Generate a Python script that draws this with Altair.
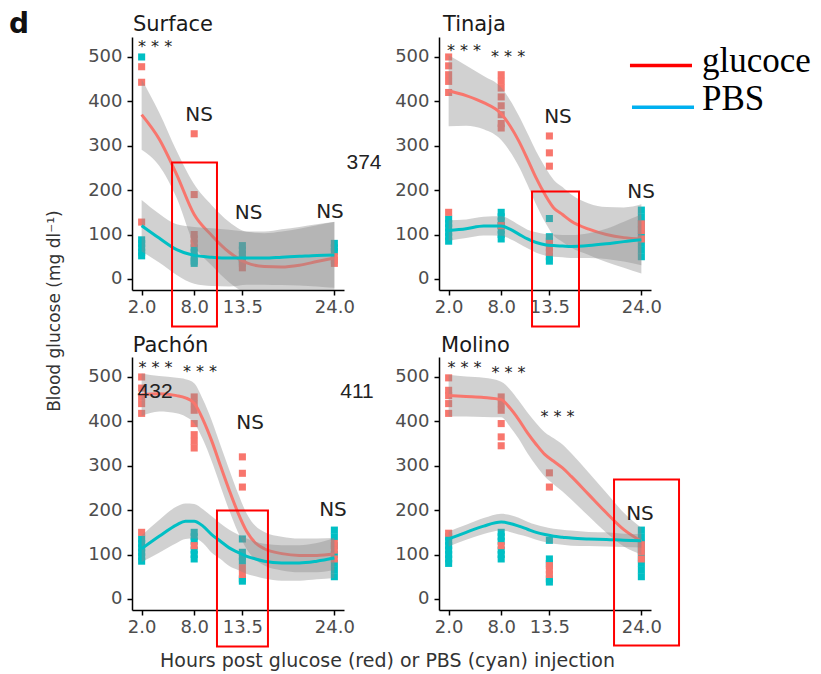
import altair as alt
import pandas as pd

RED = "#F8766D"
CYAN = "#00BFC4"
GRAY = "#8c8c8c"
BOX = "#ff0000"

HOURS_TICKS = [2, 8, 13.5, 24]
Y_TICKS = [0, 100, 200, 300, 400, 500]

# ---------------- Surface ----------------
S_GRID = [2, 4, 6, 8, 10, 12, 14, 16, 18, 20, 22, 24]
S_GLU_FIT = [370, 315, 235, 145, 98, 60, 36, 28, 27, 31, 39, 47]
S_GLU_HW = [79, 60, 53, 68, 68, 68, 70, 75, 80, 82, 82, 82]
S_PBS_FIT = [120, 92, 66, 53, 49, 47, 47, 47, 49, 51, 53, 54]
S_PBS_HW = [58, 55, 57, 64, 65, 64, 60, 60, 63, 66, 70, 74]
S_GLU_PTS = {2: [478, 443, 128], 8: [327, 190, 100, 90, 80], 13.5: [35, 25], 24: [50, 42, 35]}
S_PBS_PTS = {2: [500, 88, 80, 70, 60, 52], 8: [70, 60, 50, 40, 35],
             13.5: [75, 65, 55, 45, 40], 24: [80, 70, 62]}
S_STARS = [(3.53, 531.7)]
S_NS = [(8.55, 370), (14.2, 149), (23.5, 150)]
S_BOX = [5.47, 10.60, 262.0, -107.4]
S_TITLE = ("Surface", 1.01, 559.4)

# ---------------- Tinaja ----------------
T_GRID = [2, 4, 6, 8, 9, 10, 11, 12, 13, 14, 15, 16, 18, 20, 22, 24]
T_GLU_FIT = [424, 413, 397, 372, 345, 311, 270, 227, 190, 160, 145, 130, 112, 100, 93, 90]
T_GLU_HW = [80, 68, 60, 59, 58, 57, 58, 60, 62, 63, 62, 60, 58, 62, 68, 78]
T_PBS_FIT = [109, 113, 119, 119, 112, 101, 90, 82, 77, 75, 74, 73, 75, 79, 84, 88]
T_PBS_HW = [23, 21, 21, 22, 22, 21, 21, 23, 24, 25, 25, 26, 28, 34, 45, 57]
T_GLU_PTS = {2: [500, 480, 460, 445, 420, 150],
             8: [460, 445, 430, 410, 390, 370, 350, 340, 120],
             13.5: [322, 284, 254, 80, 70, 60], 24: [124, 109, 90]}
T_PBS_PTS = {2: [135, 125, 115, 105, 95, 85], 8: [150, 140, 130, 120, 110, 100, 90],
             13.5: [136, 95, 85, 50, 40], 24: [155, 140, 125, 110, 95, 80, 65, 50]}
T_STARS = [(3.75, 522.2), (8.78, 509.9)]
T_NS = [(14.48, 365), (23.96, 195.1)]
T_BOX = [11.52, 16.88, 196.7, -107.4]
T_TITLE = ("Tinaja", 1.36, 558.0)

# ---------------- Pachón ----------------
P_GRID = [2, 4, 6, 7, 8, 9, 10, 11, 12, 13, 14, 15, 16, 18, 20, 22, 24]
P_GLU_FIT = [460, 462, 458, 453, 441, 404, 356, 300, 245, 194, 152, 126, 113, 102, 98, 98, 101]
P_GLU_HW = [48, 40, 40, 42, 45, 45, 46, 46, 46, 44, 40, 38, 38, 38, 38, 38, 36]
P_PBS_FIT = [113, 141, 167, 175, 175, 164, 145, 130, 115, 105, 96, 90, 85, 81, 81, 85, 92]
P_PBS_HW = [30, 37, 41, 40, 39, 38, 41, 40, 41, 40, 40, 39, 39, 40, 40, 41, 45]
P_GLU_PTS = {2: [500, 475, 455, 440, 418, 150],
             8: [455, 440, 425, 395, 370, 355, 340, 120],
             13.5: [320, 283, 252, 70, 55], 24: [125, 110, 90]}
P_PBS_PTS = {2: [135, 125, 115, 105, 95, 85], 8: [150, 140, 130, 110, 100, 90],
             13.5: [135, 105, 95, 85, 45, 40], 24: [155, 140, 120, 100, 80, 65, 50]}
P_STARS = [(3.58, 530.1), (8.66, 519.3)]
P_NS = [(14.37, 397.2), (23.84, 201.2)]
P_BOX = [10.60, 16.42, 199.0, -107.4]
P_TITLE = ("Pachón", 0.98, 557.2)

# ---------------- Molino ----------------
M_GRID = [2, 4, 6, 8, 9, 10, 11, 12, 13, 14, 15, 16, 18, 20, 22, 24]
M_GLU_FIT = [458, 456, 454, 449, 430, 404, 374, 348, 325, 310, 295, 276, 235, 194, 156, 130]
M_GLU_HW = [47, 45, 44, 40, 42, 43, 46, 48, 50, 52, 53, 52, 49, 45, 38, 30]
M_PBS_FIT = [135, 150, 164, 173, 170, 164, 157, 150, 145, 141, 139, 137, 135, 134, 132, 131]
M_PBS_HW = [17, 17, 18, 19, 19, 19, 17, 17, 17, 17, 17, 17, 16, 16, 15, 15]
M_GLU_PTS = {2: [498, 470, 458, 440, 418, 148], 8: [455, 440, 425, 395, 365, 345, 120],
             13.5: [284, 252, 75, 65, 55], 24: [122, 107, 90]}
M_PBS_PTS = {2: [140, 130, 120, 110, 100, 90, 80], 8: [150, 140, 130, 110, 100, 90],
             13.5: [132, 90, 80, 45, 38], 24: [155, 140, 125, 110, 95, 80, 65, 50]}
M_STARS = [(3.81, 530.1), (8.83, 518.9), (14.43, 419.7)]
M_NS = [(23.84, 191.1)]
M_BOX = [20.88, 28.30, 268.8, -105.2]
M_TITLE = ("Molino", 1.13, 557.0)

# ---------------- annotations ----------------
Y_TITLE = "Blood glucose (mg dl\u207b\u00b9)"
X_TITLE = "Hours post glucose (red) or PBS (cyan) injection"
LEGEND_LABELS = ["glucoce", "PBS"]
LEGEND_COLORS = ["#ff0000", "#00b0f0"]

XS = alt.Scale(domain=[0.9, 25.1], nice=False, zero=False)
YS = alt.Scale(domain=[-25, 545], nice=False, zero=False)
XA = alt.Axis(values=HOURS_TICKS, format=".1f", title=None, labelOverlap=False)
YA = alt.Axis(values=Y_TICKS, title=None, labelOverlap=False)


def X(f):
    return alt.X(f, type="quantitative", scale=XS, axis=XA)


def Y(f):
    return alt.Y(f, type="quantitative", scale=YS, axis=YA)


def pts_df(d):
    rows = [{"h": h, "v": v} for h, vs in d.items() for v in vs]
    return pd.DataFrame(rows)


def fit_df(grid, fit, hw):
    return pd.DataFrame({"h": grid, "fit": fit,
                         "lo": [f - w for f, w in zip(fit, hw)],
                         "hi": [f + w for f, w in zip(fit, hw)]})


def text_layer(df, size, font="DejaVu Sans", color="#222222", align="center",
               baseline="middle", angle=0, dy=0, weight="normal"):
    return alt.Chart(df).mark_text(fontSize=size, font=font, color=color, align=align,
                                   baseline=baseline, angle=angle, dy=dy,
                                   fontWeight=weight).encode(
        x=X("h"), y=Y("v"), text="t:N")


def panel(title, grid, gfit, ghw, pfit, phw, gpts, ppts, stars, ns, box, extras=()):
    g = fit_df(grid, gfit, ghw)
    p = fit_df(grid, pfit, phw)
    layers = [
        alt.Chart(pts_df(ppts)).mark_square(size=50, color=CYAN, opacity=1).encode(x=X("h"), y=Y("v")),
        alt.Chart(pts_df(gpts)).mark_square(size=50, color=RED, opacity=1).encode(x=X("h"), y=Y("v")),
        alt.Chart(g).mark_area(color=GRAY, opacity=0.4, interpolate="monotone", clip=True).encode(
            x=X("h"), y=Y("lo"), y2="hi"),
        alt.Chart(g).mark_line(color=RED, strokeWidth=3, interpolate="monotone", clip=True).encode(
            x=X("h"), y=Y("fit")),
        alt.Chart(p).mark_area(color=GRAY, opacity=0.4, interpolate="monotone", clip=True).encode(
            x=X("h"), y=Y("lo"), y2="hi"),
        alt.Chart(p).mark_line(color=CYAN, strokeWidth=3, interpolate="monotone", clip=True).encode(
            x=X("h"), y=Y("fit")),
        text_layer(pd.DataFrame({"h": [s[0] for s in stars], "v": [s[1] for s in stars],
                                 "t": ["* * *"] * len(stars)}), 16, baseline="alphabetic", dy=9),
        text_layer(pd.DataFrame({"h": [s[0] for s in ns], "v": [s[1] for s in ns],
                                 "t": ["NS"] * len(ns)}), 20),
        text_layer(pd.DataFrame({"h": [title[1]], "v": [title[2]], "t": [title[0]]}), 21,
                   color="#1a1a1a", align="left", baseline="alphabetic"),
        alt.Chart(pd.DataFrame({"x1": [box[0]], "x2": [box[1]], "y1": [box[2]], "y2": [box[3]]}))
        .mark_rect(fill=None, fillOpacity=0, stroke=BOX, strokeWidth=2).encode(
            x=X("x1"), x2="x2", y=Y("y1"), y2="y2"),
    ]
    layers.extend(extras)
    return alt.layer(*layers).properties(width=212, height=253)


# extras
d_label = text_layer(pd.DataFrame({"h": [-13.14], "v": [554.9], "t": ["d"]}), 28,
                     color="#111111", align="left", baseline="alphabetic", weight="bold")
y_title = text_layer(pd.DataFrame({"h": [-7.89], "v": [-72.5], "t": [Y_TITLE]}), 17,
                     color="#333333", angle=270)
x_title = text_layer(pd.DataFrame({"h": [30.07], "v": [-152.5], "t": [X_TITLE]}), 19,
                     color="#333333", baseline="alphabetic")
n374 = text_layer(pd.DataFrame({"h": [-7.66], "v": [260.9], "t": ["374"]}), 21,
                  font="Liberation Sans", color="#222222")
n432 = text_layer(pd.DataFrame({"h": [3.53], "v": [465.9], "t": ["432"]}), 21,
                  font="Liberation Sans", color="#222222")
n411 = text_layer(pd.DataFrame({"h": [-8.46], "v": [465.9], "t": ["411"]}), 21,
                  font="Liberation Sans", color="#222222")

leg_lines = pd.DataFrame({"h": [22.70, 22.93], "h2": [29.78, 30.01], "v": [480.6, 386.6],
                          "c": LEGEND_COLORS})
leg_rule = alt.Chart(leg_lines).mark_rule(strokeWidth=3.5).encode(
    x=X("h"), x2="h2", y=Y("v"), color=alt.Color("c:N", scale=None))
leg_text = text_layer(pd.DataFrame({"h": [30.92, 30.92], "v": [467.1, 381.4], "t": LEGEND_LABELS}),
                      35, font="Liberation Serif", color="#000000", align="left",
                      baseline="alphabetic")

surface = panel(S_TITLE, S_GRID, S_GLU_FIT, S_GLU_HW, S_PBS_FIT, S_PBS_HW,
                S_GLU_PTS, S_PBS_PTS, S_STARS, S_NS, S_BOX, [d_label, y_title])
tinaja = panel(T_TITLE, T_GRID, T_GLU_FIT, T_GLU_HW, T_PBS_FIT, T_PBS_HW,
               T_GLU_PTS, T_PBS_PTS, T_STARS, T_NS, T_BOX, [n374, leg_rule, leg_text])
pachon = panel(P_TITLE, P_GRID, P_GLU_FIT, P_GLU_HW, P_PBS_FIT, P_PBS_HW,
               P_GLU_PTS, P_PBS_PTS, P_STARS, P_NS, P_BOX, [n432, x_title])
molino = panel(M_TITLE, M_GRID, M_GLU_FIT, M_GLU_HW, M_PBS_FIT, M_PBS_HW,
               M_GLU_PTS, M_PBS_PTS, M_STARS, M_NS, M_BOX, [n411])

chart = alt.concat(surface, tinaja, pachon, molino, columns=2,
                   spacing={"row": 67, "column": 95}, bounds="flush").properties(
    padding={"left": 1, "top": 2, "right": 0, "bottom": 0}
).configure_view(stroke=None).configure_axis(
    domainColor="#000000", domainWidth=1.5, tickColor="#000000", tickWidth=1.5,
    tickSize=5, labelFont="DejaVu Sans", labelFontSize=18, labelColor="#4d4d4d", grid=False
).configure_axisX(labelPadding=3).configure_axisY(labelPadding=5)

chart.save("out.html", embed_options={"renderer": "svg", "actions": False})
